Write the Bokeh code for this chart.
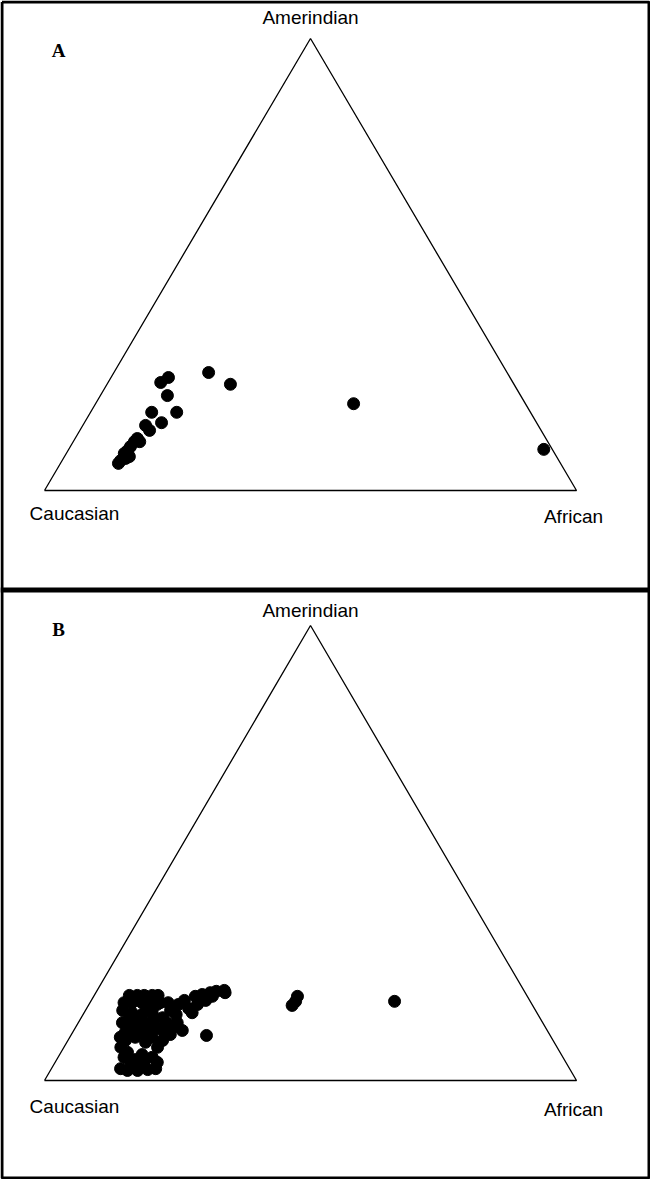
import numpy as np
from bokeh.plotting import figure
from bokeh.models import Range1d
from bokeh.embed import file_html
from bokeh.resources import INLINE
from bokeh.core.properties import value

panel_labels = ["A", "B"]
vertex_labels = ["Caucasian", "African", "Amerindian"]

# Panel A: ancestry proportions (Caucasian = 1 - Amerindian - African)
a_amerindian = [0.091, 0.192, 0.235, 0.261, 0.250, 0.239, 0.210, 0.173, 0.173, 0.150,
                0.144, 0.133, 0.115, 0.108, 0.108, 0.097, 0.088, 0.082, 0.075, 0.066,
                0.071, 0.060]
a_african = [0.893, 0.485, 0.232, 0.178, 0.108, 0.099, 0.126, 0.115, 0.162, 0.145,
             0.118, 0.131, 0.117, 0.115, 0.125, 0.113, 0.112, 0.109, 0.122, 0.110,
             0.117, 0.109]

# Panel B
b_amerindian = [0.187, 0.187, 0.187, 0.187, 0.187,
                0.171, 0.171, 0.171, 0.171, 0.171, 0.171,
                0.154,
                0.154, 0.167, 0.176, 0.145, 0.158, 0.185, 0.189, 0.193, 0.196, 0.198,
                0.167, 0.176, 0.185, 0.149,
                0.149, 0.145, 0.149, 0.138, 0.127, 0.123, 0.116, 0.127, 0.127, 0.110,
                0.101, 0.095, 0.105,
                0.099,
                0.105, 0.088, 0.095, 0.084, 0.062, 0.057, 0.046, 0.051, 0.051, 0.040,
                0.044, 0.035, 0.026, 0.022, 0.022, 0.024, 0.026, 0.073, 0.073, 0.088,
                0.138, 0.160, 0.167, 0.127, 0.132, 0.110, 0.116, 0.116, 0.101, 0.095,
                0.040,
                0.193, 0.165, 0.174, 0.185, 0.174]
b_african = [0.066, 0.081, 0.094, 0.109, 0.120,
             0.064, 0.079, 0.098, 0.113, 0.132, 0.147,
             0.070,
             0.160, 0.168, 0.175, 0.175, 0.192, 0.191, 0.202, 0.215, 0.225, 0.239,
             0.204, 0.215, 0.223, 0.203,
             0.090, 0.111, 0.128, 0.153, 0.111, 0.132, 0.154, 0.167, 0.186, 0.204,
             0.186, 0.155, 0.131,
             0.255,
             0.099, 0.108, 0.123, 0.148, 0.125, 0.155, 0.148, 0.124, 0.177, 0.142,
             0.166, 0.162, 0.130, 0.145, 0.164, 0.182, 0.196, 0.176, 0.107, 0.178,
             0.091, 0.114, 0.128, 0.083, 0.137, 0.167, 0.107, 0.183, 0.146, 0.095,
             0.192,
             0.243, 0.383, 0.385, 0.383, 0.571]

W, H = 650, 1179
p = figure(width=W, height=H, x_range=Range1d(8, 658), y_range=Range1d(1187, 8),
           output_backend="svg", toolbar_location=None, min_border=0)
p.axis.visible = False
p.grid.visible = False
p.outline_line_color = None
p.background_fill_color = "white"

# triangle vertices per panel: (Caucasian, African, Amerindian)
panels = [
    dict(L=(52, 498), R=(584, 498), A=(318, 46), amer=a_amerindian, afr=a_african,
         lab_y=(521, 524, 25), letter=(66, 58)),
    dict(L=(52, 1088), R=(584, 1088), A=(318, 633), amer=b_amerindian, afr=b_african,
         lab_y=(1114, 1117, 618), letter=(66, 637)),
]

for i, pn in enumerate(panels):
    L, R, A = pn["L"], pn["R"], pn["A"]
    p.line([L[0], R[0], A[0], L[0]], [L[1], R[1], A[1], L[1]],
           line_color="black", line_width=1.3)
    amer = np.array(pn["amer"])
    afr = np.array(pn["afr"])
    cau = 1 - amer - afr
    xs = cau * L[0] + afr * R[0] + amer * A[0]
    ys = cau * L[1] + afr * R[1] + amer * A[1]
    p.scatter(xs, ys, size=12, fill_color="black", line_color="black")
    p.text(x=[82, 581, 318], y=list(pn["lab_y"]), text=vertex_labels,
           text_font=value("Liberation Sans"), text_font_size="19px",
           text_align="center", text_baseline="middle", text_color="black")
    p.text(x=[pn["letter"][0]], y=[pn["letter"][1]], text=[panel_labels[i]],
           text_font=value("Liberation Serif"), text_font_size="19px",
           text_font_style="bold", text_align="center", text_baseline="middle",
           text_color="black")

# frame
p.line([9.5, 656.5, 656.5, 9.5, 9.5], [9.5, 9.5, 1185.5, 1185.5, 9.5],
       line_color="black", line_width=3)
p.line([8, 658], [597.5, 597.5], line_color="black", line_width=5)

open("out.html", "w").write(file_html(p, INLINE))
